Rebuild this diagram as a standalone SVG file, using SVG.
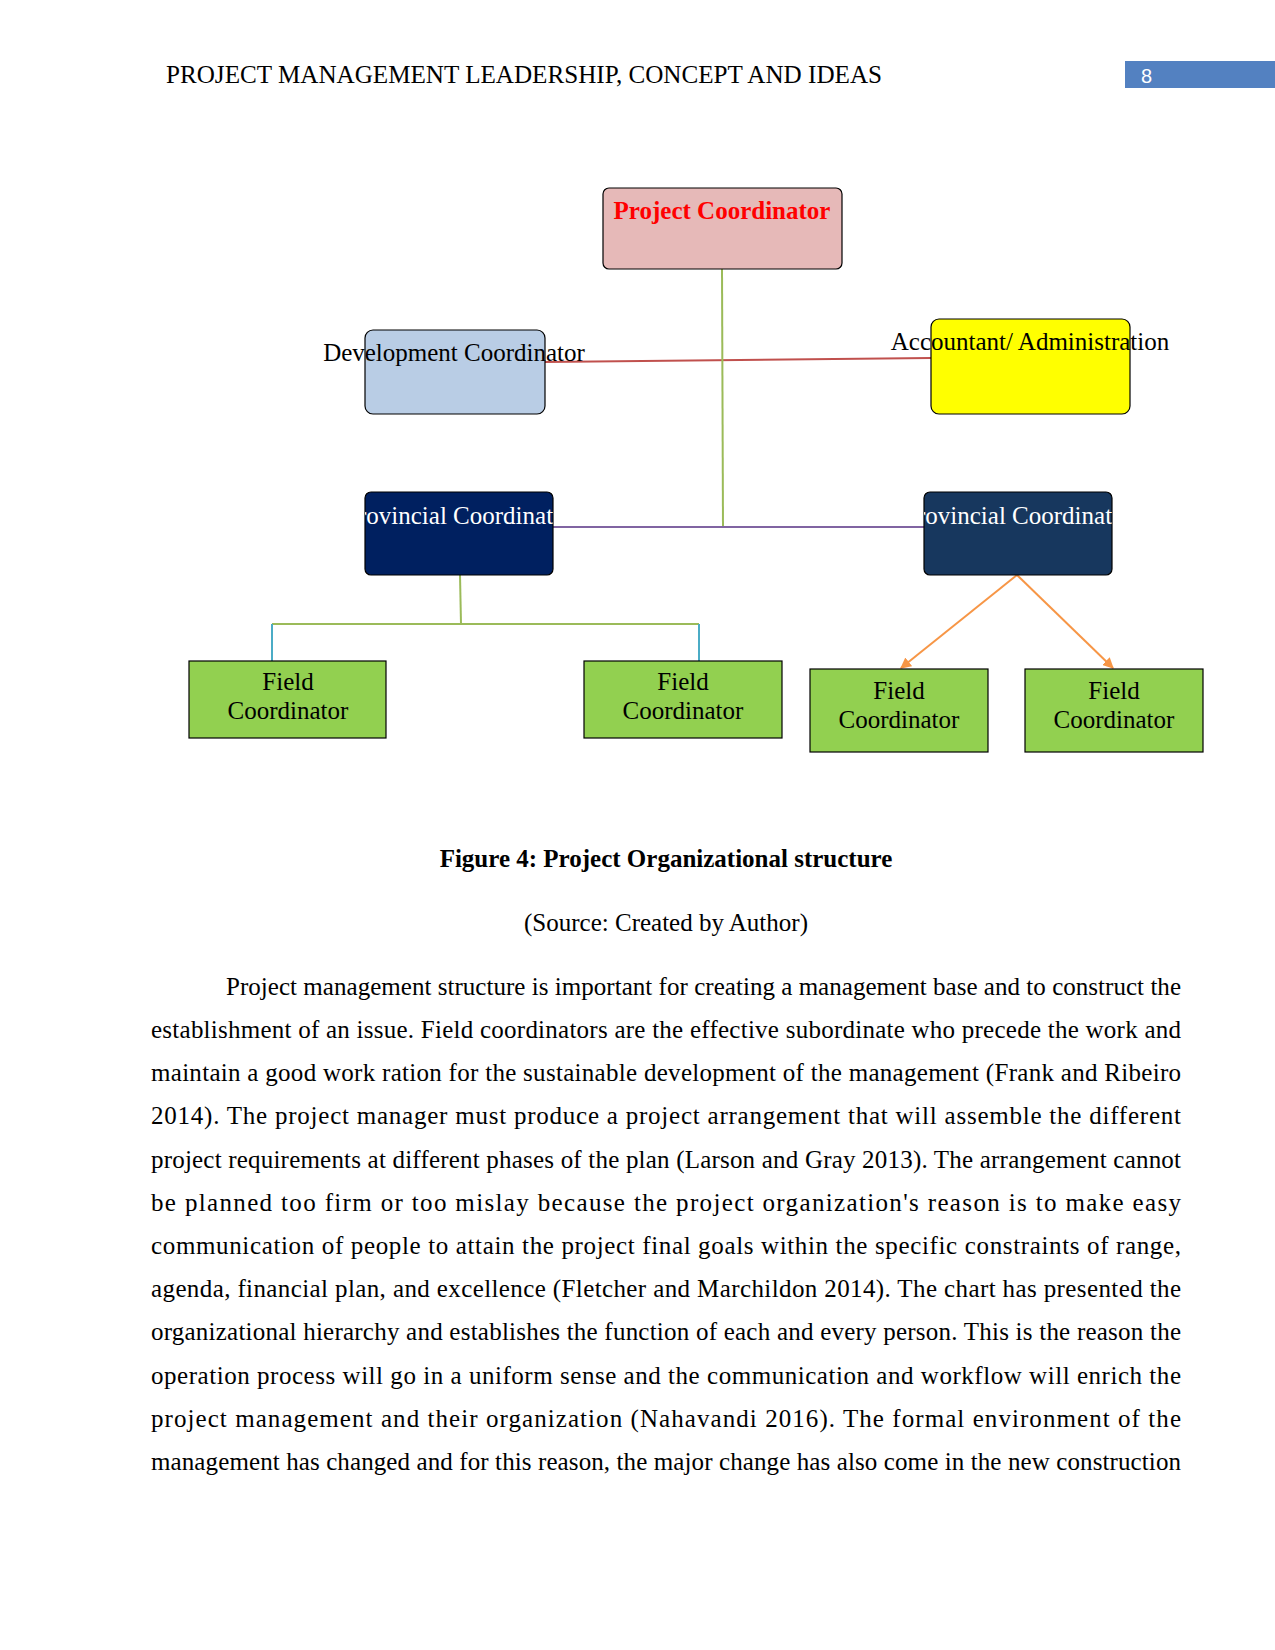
<svg xmlns="http://www.w3.org/2000/svg" width="1275" height="1650" viewBox="0 0 1275 1650">
<style>
text{font-family:"Liberation Serif","Times New Roman",serif;font-size:25px;fill:#000}
.c{text-anchor:middle}
.w{fill:#fff}
.box{stroke:#000;stroke-width:1.2}
.field{fill:#92D050;stroke:#000;stroke-width:1.2}
.ln{fill:none;stroke-width:2}
</style>
<defs>
<marker id="arr" viewBox="0 0 10 10" refX="9" refY="5" markerWidth="11" markerHeight="11" orient="auto" markerUnits="userSpaceOnUse">
<path d="M0,0 L10,5 L0,10 z" fill="#F79646"/>
</marker>
<clipPath id="clipL"><rect x="365" y="492" width="188" height="83"/></clipPath>
<clipPath id="clipR"><rect x="924" y="492" width="188" height="83"/></clipPath>
</defs>
<rect width="1275" height="1650" fill="#fff"/>
<text x="166" y="83" textLength="716" lengthAdjust="spacingAndGlyphs">PROJECT MANAGEMENT LEADERSHIP, CONCEPT AND IDEAS</text>
<rect x="1125" y="61" width="150" height="27" fill="#5381C1"/>
<text x="1141" y="83" class="w" style="font-family:'Liberation Sans',Arial,sans-serif;font-size:20px">8</text>

<g id="connectors">
<line class="ln" x1="545" y1="362" x2="931" y2="358" stroke="#C0504D"/>
<line class="ln" x1="722" y1="269" x2="723" y2="527" stroke="#9BBB59"/>
<line class="ln" x1="553" y1="527" x2="924" y2="527" stroke="#8064A2"/>
<polyline class="ln" points="460,575 461,624" stroke="#9BBB59"/>
<polyline class="ln" points="272,624 699,624" stroke="#9BBB59"/>
<line class="ln" x1="272" y1="624" x2="272" y2="661" stroke="#4BACC6"/>
<line class="ln" x1="699" y1="624" x2="699" y2="661" stroke="#4BACC6"/>
<line class="ln" x1="1017" y1="575" x2="901" y2="668" stroke="#F79646" marker-end="url(#arr)"/>
<line class="ln" x1="1017" y1="575" x2="1113" y2="668" stroke="#F79646" marker-end="url(#arr)"/>
</g>

<g id="project-coordinator">
<rect class="box" x="603" y="188" width="239" height="81" rx="6" fill="#E6B9B8"/>
<text x="722" y="219" class="c" style="font-weight:bold;fill:#FF0000">Project Coordinator</text>
</g>
<g id="development-coordinator">
<rect class="box" x="365" y="330" width="180" height="84" rx="8" fill="#B9CDE5"/>
<text x="454" y="361" class="c">Development Coordinator</text>
</g>
<g id="accountant">
<rect class="box" x="931" y="319" width="199" height="95" rx="8" fill="#FFFF00"/>
<text x="1030" y="350" class="c">Accountant/ Administration</text>
</g>
<g id="provincial-left">
<rect class="box" x="365" y="492" width="188" height="83" rx="6" fill="#002060"/>
<text x="459" y="524" class="c w" clip-path="url(#clipL)">Provincial Coordinator</text>
</g>
<g id="provincial-right">
<rect class="box" x="924" y="492" width="188" height="83" rx="6" fill="#17375E"/>
<text x="1018" y="524" class="c w" clip-path="url(#clipR)">Provincial Coordinator</text>
</g>
<g id="field-1">
<rect class="field" x="189" y="661" width="197" height="77"/>
<text x="288" y="690" class="c">Field</text>
<text x="288" y="719" class="c">Coordinator</text>
</g>
<g id="field-2">
<rect class="field" x="584" y="661" width="198" height="77"/>
<text x="683" y="690" class="c">Field</text>
<text x="683" y="719" class="c">Coordinator</text>
</g>
<g id="field-3">
<rect class="field" x="810" y="669" width="178" height="83"/>
<text x="899" y="699" class="c">Field</text>
<text x="899" y="728" class="c">Coordinator</text>
</g>
<g id="field-4">
<rect class="field" x="1025" y="669" width="178" height="83"/>
<text x="1114" y="699" class="c">Field</text>
<text x="1114" y="728" class="c">Coordinator</text>
</g>

<text x="666" y="867" class="c" style="font-weight:bold">Figure 4: Project Organizational structure</text>
<text x="666" y="931" class="c">(Source: Created by Author)</text>

<g id="body">
<text x="226" y="995" textLength="955" lengthAdjust="spacing">Project management structure is important for creating a management base and to construct the</text>
<text x="151" y="1038" textLength="1030" lengthAdjust="spacing">establishment of an issue. Field coordinators are the effective subordinate who precede the work and</text>
<text x="151" y="1081" textLength="1030" lengthAdjust="spacing">maintain a good work ration for the sustainable development of the management (Frank and Ribeiro</text>
<text x="151" y="1124" textLength="1030" lengthAdjust="spacing">2014). The project manager must produce a project arrangement that will assemble the different</text>
<text x="151" y="1168" textLength="1030" lengthAdjust="spacing">project requirements at different phases of the plan (Larson and Gray 2013). The arrangement cannot</text>
<text x="151" y="1211" textLength="1030" lengthAdjust="spacing">be planned too firm or too mislay because the project organization's reason is to make easy</text>
<text x="151" y="1254" textLength="1030" lengthAdjust="spacing">communication of people to attain the project final goals within the specific constraints of range,</text>
<text x="151" y="1297" textLength="1030" lengthAdjust="spacing">agenda, financial plan, and excellence (Fletcher and Marchildon 2014). The chart has presented the</text>
<text x="151" y="1340" textLength="1030" lengthAdjust="spacing">organizational hierarchy and establishes the function of each and every person. This is the reason the</text>
<text x="151" y="1384" textLength="1030" lengthAdjust="spacing">operation process will go in a uniform sense and the communication and workflow will enrich the</text>
<text x="151" y="1427" textLength="1030" lengthAdjust="spacing">project management and their organization (Nahavandi 2016). The formal environment of the</text>
<text x="151" y="1470" textLength="1030" lengthAdjust="spacing">management has changed and for this reason, the major change has also come in the new construction</text>
</g>
</svg>
